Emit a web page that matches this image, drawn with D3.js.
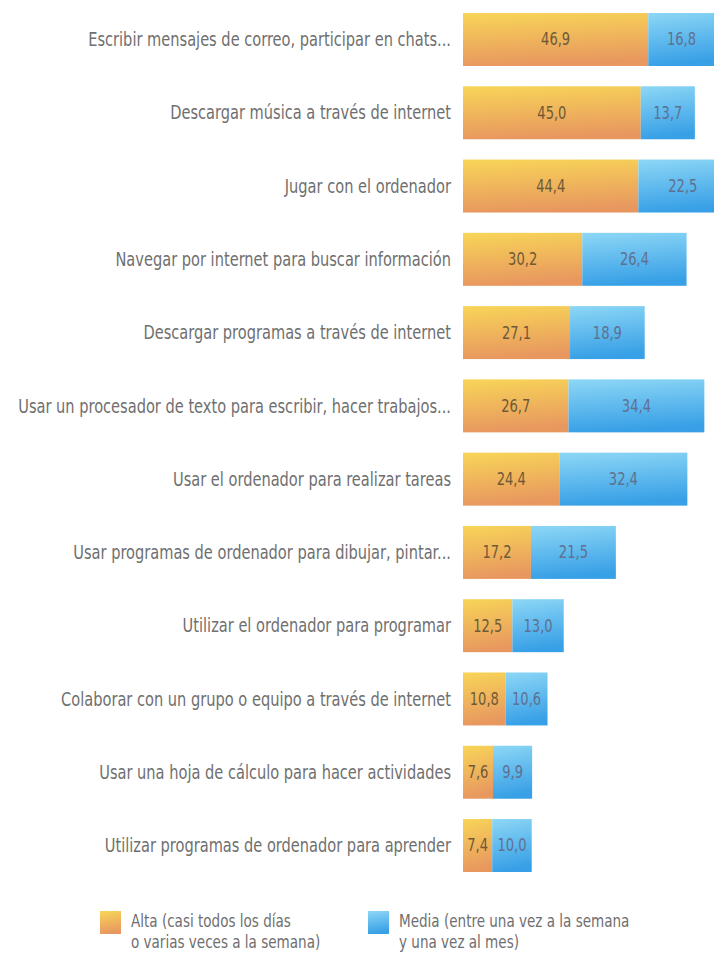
<!DOCTYPE html>
<html>
<head>
<meta charset="utf-8">
<script src="https://cdn.jsdelivr.net/npm/d3@7"></script>
<style>
  body { margin: 0; background: #ffffff; }
  svg { display: block; }
  .label { font-family: "Liberation Sans Narrow", "DejaVu Sans Condensed", sans-serif; fill: #6f6f6f; }
  .value { font-family: "Liberation Sans Narrow", "DejaVu Sans Condensed", sans-serif; }
</style>
</head>
<body>
<div class="chart"></div>
<script>
// datos: actividades y porcentajes
const categories = [
  'Escribir mensajes de correo, participar en chats...',
  'Descargar música a través de internet',
  'Jugar con el ordenador',
  'Navegar por internet para buscar información',
  'Descargar programas a través de internet',
  'Usar un procesador de texto para escribir, hacer trabajos...',
  'Usar el ordenador para realizar tareas',
  'Usar programas de ordenador para dibujar, pintar...',
  'Utilizar el ordenador para programar',
  'Colaborar con un grupo o equipo a través de internet',
  'Usar una hoja de cálculo para hacer actividades',
  'Utilizar programas de ordenador para aprender'
];
const alta  = [46.9, 45.0, 44.4, 30.2, 27.1, 26.7, 24.4, 17.2, 12.5, 10.8, 7.6, 7.4];
const media = [16.8, 13.7, 22.5, 26.4, 18.9, 34.4, 32.4, 21.5, 13.0, 10.6, 9.9, 10.0];
const legendLabels = [
  ['Alta (casi todos los días', 'o varias veces a la semana)'],
  ['Media (entre una vez a la semana', 'y una vez al mes)']
];

const width = 714, height = 957;
const narrow = 0.855; // la tipografía original es muy condensada
const fmt = v => d3.format('.1f')(v).replace('.', ',');

const data = categories.map((c, i) => ({cat: c, alta: alta[i], media: media[i]}));

const svg = d3.select('.chart').append('svg')
  .attr('width', width).attr('height', height);

// degradados
const defs = svg.append('defs');
function grad(id, top, bottom) {
  const g = defs.append('linearGradient').attr('id', id)
    .attr('x1', 0).attr('y1', 0).attr('x2', 0.15).attr('y2', 1);
  g.append('stop').attr('offset', '0%').attr('stop-color', top);
  g.append('stop').attr('offset', '100%').attr('stop-color', bottom);
}
grad('gAlta', '#f8d558', '#e8985f');
grad('gMedia', '#8dd7f6', '#38a0e6');

const x = d3.scaleLinear().domain([0, 64]).range([463, 463 + 64 * 3.95]);
const y = d3.scaleBand().domain(categories).range([13, 872]).paddingInner(0.277);
const cy = d => y(d.cat) + y.bandwidth() / 2;

const rows = svg.selectAll('.row').data(data).enter().append('g').attr('class', 'row');

rows.append('rect')
  .attr('x', x(0)).attr('y', d => y(d.cat))
  .attr('width', d => x(d.alta) - x(0)).attr('height', y.bandwidth())
  .attr('fill', 'url(#gAlta)');

rows.append('rect')
  .attr('x', d => x(d.alta)).attr('y', d => y(d.cat))
  .attr('width', d => x(d.alta + d.media) - x(d.alta)).attr('height', y.bandwidth())
  .attr('fill', 'url(#gMedia)');

rows.append('text').attr('class', 'label')
  .attr('transform', d => `translate(451,${cy(d)}) scale(${narrow},1)`)
  .attr('dy', '0.35em').attr('text-anchor', 'end')
  .style('font-size', '19px')
  .text(d => d.cat);

rows.append('text').attr('class', 'value')
  .attr('transform', d => `translate(${(x(0) + x(d.alta)) / 2},${cy(d)}) scale(${narrow},1)`)
  .attr('dy', '0.35em').attr('text-anchor', 'middle')
  .style('font-size', '17px').style('fill', '#6e5a36')
  .text(d => fmt(d.alta));

rows.append('text').attr('class', 'value')
  .attr('transform', d => `translate(${(x(d.alta) + x(d.alta + d.media)) / 2},${cy(d)}) scale(${narrow},1)`)
  .attr('dy', '0.35em').attr('text-anchor', 'middle')
  .style('font-size', '17px').style('fill', '#5f7090')
  .text(d => fmt(d.media));

// leyenda
const legend = svg.append('g').attr('class', 'legend');
const legendX = [100, 368];
['gAlta', 'gMedia'].forEach((id, i) => {
  const g = legend.append('g').attr('transform', `translate(${legendX[i]},911)`);
  g.append('rect').attr('width', 21).attr('height', 23).attr('fill', `url(#${id})`);
  const t = g.append('text').attr('class', 'label').style('font-size', '17px')
    .attr('transform', `translate(31,0) scale(${narrow + 0.03},1)`);
  legendLabels[i].forEach((line, k) => {
    t.append('tspan').attr('x', 0).attr('y', 16 + k * 21).text(line);
  });
});
</script>
</body>
</html>
